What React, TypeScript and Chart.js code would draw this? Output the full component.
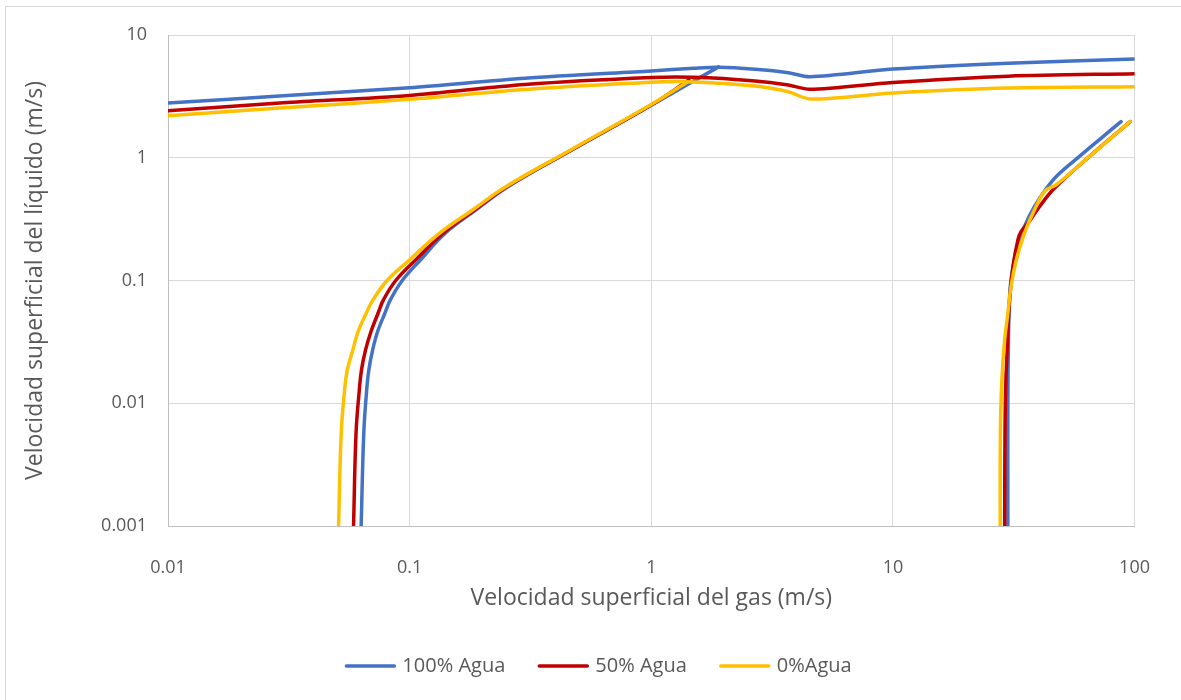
import React, { useEffect, useRef } from 'react';
import { Chart, registerables } from 'chart.js';

Chart.register(...registerables);

const xTicks = [0.01, 0.1, 1, 10, 100];
const yTicks = [0.001, 0.01, 0.1, 1, 10];
const seriesNames = ['100% Agua', '50% Agua', '0%Agua'];
const seriesColors = ['#4472C4', '#C00000', '#FFC000'];
const xTitle = 'Velocidad superficial del gas (m/s)';
const yTitle = 'Velocidad superficial del líquido (m/s)';

// 100% Agua
const blueTop: [number, number][] = [[0.01, 2.79], [0.03, 3.2], [0.1, 3.72], [0.3, 4.45], [1, 5.1], [1.5, 5.35], [1.9, 5.45], [2.69, 5.25], [3.69, 4.93], [4.54, 4.57], [10, 5.28], [30, 5.9], [100, 6.37]];
const blueLeft: [number, number][] = [[0.063, 0.001], [0.0646, 0.0057], [0.0664, 0.0128], [0.0678, 0.0187], [0.0703, 0.0272], [0.0737, 0.0384], [0.079, 0.0541], [0.0832, 0.0695], [0.0932, 0.1], [0.1108, 0.147], [0.14, 0.242], [0.1875, 0.375], [0.255, 0.581], [0.4686, 1.157], [1.02, 2.74], [1.43, 4.0], [1.9, 5.5]];
const blueRight: [number, number][] = [[29.9, 0.001], [29.9, 0.0106], [30.1, 0.0372], [30.4, 0.0738], [30.8, 0.101], [32.4, 0.177], [35.0, 0.274], [38.5, 0.399], [42.7, 0.546], [48.1, 0.724], [60.0, 1.05], [72.6, 1.44], [87.9, 1.97]];

// 50% Agua
const redTop: [number, number][] = [[0.01, 2.42], [0.03, 2.8], [0.1, 3.22], [0.3, 3.95], [1, 4.5], [1.5, 4.52], [2.69, 4.22], [3.69, 3.91], [4.54, 3.61], [10, 4.11], [30, 4.62], [100, 4.84]];
const redLeft: [number, number][] = [[0.0586, 0.001], [0.06, 0.0057], [0.0619, 0.0128], [0.0632, 0.0187], [0.0657, 0.0272], [0.0692, 0.0384], [0.074, 0.0541], [0.0779, 0.0695], [0.0876, 0.1], [0.1058, 0.147], [0.1373, 0.242], [0.1856, 0.375], [0.2525, 0.581], [0.4677, 1.157], [1.016, 2.74], [1.43, 4.3]];
const redRight: [number, number][] = [[29.0, 0.001], [29.2, 0.0106], [29.9, 0.0372], [30.4, 0.0693], [31.4, 0.1296], [32.9, 0.214], [33.9, 0.25], [36.2, 0.292], [40.4, 0.399], [46.6, 0.564], [66.0, 1.05], [96.0, 1.97]];

// 0% Agua
const yellowTop: [number, number][] = [[0.01, 2.2], [0.03, 2.55], [0.1, 2.99], [0.3, 3.6], [1, 4.12], [1.4, 4.16], [2.69, 3.84], [3.69, 3.45], [4.54, 3.01], [10, 3.37], [30, 3.7], [100, 3.79]];
const yellowLeft: [number, number][] = [[0.0508, 0.001], [0.0521, 0.0057], [0.0538, 0.0128], [0.0552, 0.0187], [0.0582, 0.0272], [0.0612, 0.0384], [0.0661, 0.0541], [0.0705, 0.0695], [0.0807, 0.1], [0.0998, 0.147], [0.1327, 0.242], [0.182, 0.375], [0.25, 0.581], [0.464, 1.157], [1.008, 2.74], [1.4, 4.1]];
const yellowRight: [number, number][] = [[27.8, 0.001], [27.85, 0.0057], [28.2, 0.01454], [29.0, 0.0328], [29.9, 0.054], [30.8, 0.089], [32.4, 0.147], [35.0, 0.242], [38.5, 0.375], [42.7, 0.539], [47.3, 0.6], [66.0, 1.05], [96.0, 1.97]];

const FONT = "'Open Sans', 'DejaVu Sans', sans-serif";
const TEXT = '#595959';

const legendPlugin = {
  id: 'lineLegend',
  afterDraw(chart: any) {
    const ctx = chart.ctx as CanvasRenderingContext2D;
    const lineLen = 52;
    const gap = 6;
    const spacing = 32;
    const centerX = 598;
    const y = 666;
    ctx.save();
    ctx.font = `20px ${FONT}`;
    const widths = seriesNames.map((n) => ctx.measureText(n).width);
    const total = widths.reduce((a, w) => a + lineLen + gap + w, 0) + spacing * (seriesNames.length - 1);
    let x = centerX - total / 2;
    seriesNames.forEach((name, i) => {
      ctx.strokeStyle = seriesColors[i];
      ctx.lineWidth = 3.5;
      ctx.lineCap = 'round';
      ctx.beginPath();
      ctx.moveTo(x + 2, y);
      ctx.lineTo(x + lineLen - 2, y);
      ctx.stroke();
      ctx.fillStyle = TEXT;
      ctx.textBaseline = 'middle';
      ctx.textAlign = 'left';
      ctx.fillText(name, x + lineLen + gap, y);
      x += lineLen + gap + widths[i] + spacing;
    });
    ctx.restore();
  },
};

export default function App() {
  const ref = useRef<HTMLCanvasElement>(null);

  useEffect(() => {
    const curves = [
      { s: 0, d: blueTop, t: 0.3 }, { s: 0, d: blueLeft, t: 0.4 }, { s: 0, d: blueRight, t: 0.4 },
      { s: 1, d: redTop, t: 0.3 }, { s: 1, d: redLeft, t: 0.4 }, { s: 1, d: redRight, t: 0.4 },
      { s: 2, d: yellowTop, t: 0.3 }, { s: 2, d: yellowLeft, t: 0.4 }, { s: 2, d: yellowRight, t: 0.4 },
    ];
    const datasets = curves.map((c) => ({
      label: seriesNames[c.s],
      data: c.d.map(([x, y]) => ({ x, y })),
      borderColor: seriesColors[c.s],
      backgroundColor: seriesColors[c.s],
      borderWidth: 3.5,
      borderCapStyle: 'round',
      borderJoinStyle: 'round',
      pointRadius: 0,
      pointHoverRadius: 0,
      showLine: true,
      tension: c.t,
      order: 2 - c.s,
    }));

    const chart = new Chart(ref.current as HTMLCanvasElement, {
      type: 'scatter',
      data: { datasets } as any,
      plugins: [legendPlugin],
      options: {
        responsive: false,
        animation: false,
        devicePixelRatio: 1,
        layout: { padding: { left: 16, right: 45, top: 35, bottom: 74 } },
        plugins: {
          tooltip: { enabled: false },
          legend: { display: false },
        },
        scales: {
          x: {
            type: 'logarithmic',
            position: 'bottom',
            min: 0.01,
            max: 100,
            afterBuildTicks: (s: any) => {
              s.ticks = xTicks.map((v) => ({ value: v }));
            },
            afterFit: (s: any) => {
              s.height = 100;
            },
            ticks: {
              callback: (v: any) => String(v),
              color: TEXT,
              font: { family: FONT, size: 18 },
              padding: 31,
              autoSkip: false,
              maxRotation: 0,
            },
            grid: { color: '#D9D9D9', lineWidth: 1, drawTicks: false },
            border: { color: '#BFBFBF', width: 1 },
            title: {
              display: true,
              text: xTitle,
              color: TEXT,
              font: { family: FONT, size: 23 },
              padding: { top: 0, bottom: 14 },
            },
          },
          y: {
            type: 'logarithmic',
            position: 'left',
            min: 0.001,
            max: 10,
            afterBuildTicks: (s: any) => {
              s.ticks = yTicks.map((v) => ({ value: v }));
            },
            afterFit: (s: any) => {
              s.width = 152;
            },
            ticks: {
              callback: (v: any) => String(v),
              color: TEXT,
              font: { family: FONT, size: 18 },
              padding: 21,
              autoSkip: false,
            },
            grid: { color: '#D9D9D9', lineWidth: 1, drawTicks: false },
            border: { color: '#BFBFBF', width: 1 },
            title: {
              display: true,
              text: yTitle,
              color: TEXT,
              font: { family: FONT, size: 23 },
              padding: { top: 6, bottom: 0 },
            },
          },
        },
      } as any,
    });
    return () => chart.destroy();
  }, []);

  return (
    <div style={{ position: 'absolute', left: 0, top: 0, width: 1181, height: 700, overflow: 'hidden', background: '#fff' }}>
      <div style={{ position: 'absolute', left: 5, top: 6, width: 1300, height: 900, borderLeft: '1px solid #D9D9D9', borderTop: '1px solid #D9D9D9' }} />
      <canvas ref={ref} width={1181} height={700} style={{ position: 'absolute', left: 0, top: 0, width: 1181, height: 700 }} />
    </div>
  );
}
